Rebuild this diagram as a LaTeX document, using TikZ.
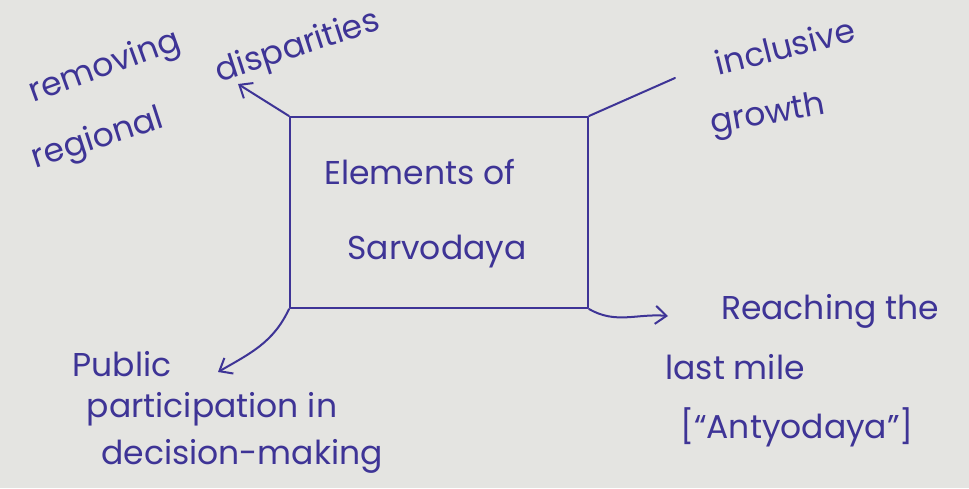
\documentclass[tikz,border=0pt]{standalone}
\usepackage{fontspec}
\setmainfont{Poppins}
\usetikzlibrary{arrows.meta}
\definecolor{ink}{RGB}{62,52,150}
\definecolor{paper}{RGB}{228,228,225}
\tikzset{
  hand/.style={text=ink, inner sep=0pt, font=\fontsize{33}{36}\selectfont},
  pen/.style={draw=ink, line width=2pt, line cap=round, line join=round},
  tip/.style={-{Straight Barb[length=11pt,width=18pt,line width=2pt]}},
  frame/.style={pen, rectangle, minimum width=298pt, minimum height=191pt, inner sep=0pt}
}
\begin{document}
\begin{tikzpicture}[x=1pt,y=-1pt]
\fill[paper] (0,0) rectangle (969,488);
\useasboundingbox (0,0) rectangle (969,488);

% central box
\node[frame] (box) at (439,212.5) {};
\node[hand] (el) at (420,172) {Elements of};
\node[hand] (sa) at (437,252) {Sarvodaya};

% top left
\node[hand, rotate=20] (rem) at (105,68) {removing};
\node[hand, rotate=18] (reg) at (98,140) {regional};
\node[hand, rotate=18] (dis) at (298,48) {disparities};
\coordinate (tl) at (238,84);

% top right
\node[hand, rotate=14] (inc) at (785,46) {inclusive};
\node[hand, rotate=10] (gro) at (768,116) {growth};
\coordinate (tr) at (675,78);

% bottom left
\node[hand] (pub) at (122,364) {Public};
\node[hand] (par) at (212,409) {participation in};
\node[hand] (dec) at (242,456) {decision-making};
\coordinate (bl) at (218,372);

% bottom right
\node[hand] (rea) at (830,311) {Reaching the};
\node[hand] (las) at (735,367) {last mile};
\node[hand] (ant) at (797,427) {[``Antyodaya'']};
\coordinate (br) at (668,316);

% connectors
\draw[pen, tip] (box.north west) -- (tl);
\draw[pen] (box.north east) -- (tr);
\draw[pen, tip] (box.south west) to[out=-115, in=30] (bl);
\draw[pen, tip] (box.south east) to[out=-30, in=175] (br);
\end{tikzpicture}
\end{document}
